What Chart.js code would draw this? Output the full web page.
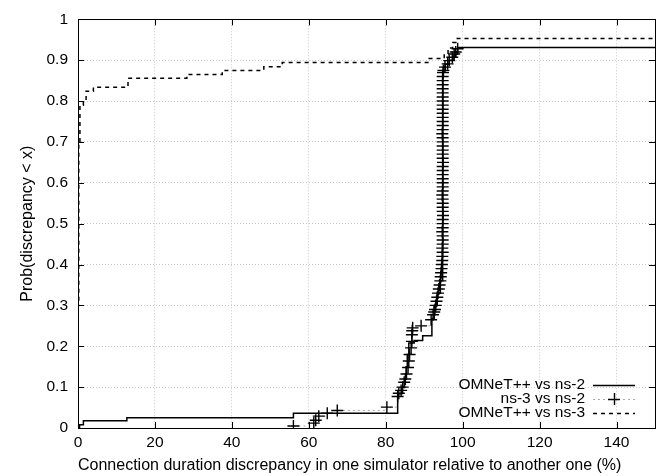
<!DOCTYPE html>
<html>
<head>
<meta charset="utf-8">
<script src="https://cdn.jsdelivr.net/npm/chart.js@4.4.0/dist/chart.umd.min.js"></script>
<style>
    html, body { margin: 0; padding: 0; background: #fff; }
</style>
</head>
<body>
<canvas id="cdfChart" width="665" height="476"></canvas>
<script>
const xTicks = [0, 20, 40, 60, 80, 100, 120, 140];
const yTicks = [0, 0.1, 0.2, 0.3, 0.4, 0.5, 0.6, 0.7, 0.8, 0.9, 1];

const seriesNames = ["OMNeT++ vs ns-2", "ns-3 vs ns-2", "OMNeT++ vs ns-3"];

// OMNeT++ vs ns-2 (solid step line)
const omnetNs2X = [0, 0.4, 1.4, 12.7, 56.0, 83.1, 84.2, 84.9, 85.3, 85.6, 86.0, 87.4, 89.6, 92.0, 92.6, 93.4, 94.2, 94.8, 94.8, 95.5, 96.5, 97.5, 98.2, 98.7, 150];
const omnetNs2Y = [0, 0.008, 0.018, 0.025, 0.036, 0.084, 0.10, 0.12, 0.15, 0.18, 0.208, 0.214, 0.226, 0.268, 0.30, 0.33, 0.36, 0.40, 0.875, 0.89, 0.90, 0.91, 0.92, 0.931, 0.931];

// ns-3 vs ns-2 (grey dotted with + markers)
const ns3Ns2X = [56.0, 61.3, 61.8, 62.6, 64.8, 67.4, 80.3, 83.1, 83.4, 84.0, 84.4, 84.8, 85.1, 85.4, 85.8, 86.0, 86.2, 86.6, 86.8, 86.8, 86.9, 87.0, 89.2, 91.8, 92.3, 92.6, 92.8, 93.0, 93.2, 93.4, 93.6, 93.8, 94.0, 94.2, 94.3, 94.4, 94.5,
    94.6, 94.7, 94.7, 94.8, 94.7, 94.8, 94.8, 94.8, 94.7, 94.8, 94.8, 94.8, 94.9, 94.8, 94.8, 94.8, 94.8, 94.7, 94.8, 94.8,
    94.8, 94.8, 94.8, 94.8, 94.8, 94.9, 94.8, 94.8, 94.8, 94.8, 94.8, 94.8, 94.7, 94.8, 94.8, 94.8, 94.8, 94.8, 94.8, 94.8,
    94.8, 94.8, 94.8, 94.8, 94.8, 94.8, 94.8, 94.9,
    95.0, 95.4, 96.1, 96.5, 97.3, 97.8, 98.2, 98.7];
const ns3Ns2Y = [0.005, 0.012, 0.019, 0.029, 0.036, 0.043, 0.051, 0.077, 0.085, 0.092, 0.10, 0.112, 0.12, 0.132, 0.148, 0.164, 0.18, 0.196, 0.212, 0.228, 0.238, 0.245, 0.25, 0.265, 0.277, 0.284, 0.29, 0.30, 0.31, 0.32, 0.33, 0.34, 0.35, 0.36, 0.37, 0.38, 0.39,
    0.40, 0.41, 0.42, 0.43, 0.44, 0.45, 0.46, 0.47, 0.48, 0.49, 0.50, 0.51, 0.52, 0.53, 0.54, 0.55, 0.56, 0.57, 0.58, 0.59,
    0.60, 0.61, 0.62, 0.63, 0.64, 0.65, 0.66, 0.67, 0.68, 0.69, 0.70, 0.71, 0.72, 0.73, 0.74, 0.75, 0.76, 0.77, 0.78, 0.79,
    0.80, 0.81, 0.82, 0.83, 0.84, 0.85, 0.86, 0.87,
    0.875, 0.883, 0.891, 0.899, 0.907, 0.915, 0.92, 0.928];

// OMNeT++ vs ns-3 (dashed step line)
const omnetNs3X = [0, 0.05, 0.2, 0.5, 1.4, 2.1, 4.0, 13.0, 28.3, 37.5, 48.3, 53.1, 91.3, 95.2, 96.2, 97.4, 98.6, 150];
const omnetNs3Y = [0, 0.30, 0.70, 0.79, 0.80, 0.824, 0.834, 0.856, 0.865, 0.875, 0.884, 0.894, 0.904, 0.915, 0.93, 0.943, 0.953, 0.953];

const toPoints = (xs, ys) => xs.map((x, i) => ({ x: x, y: ys[i] }));

const FONT = "'Liberation Sans', Arial, sans-serif";
const FONT_SIZE = 15.5;

// frame, inward tick marks and legend drawn gnuplot-style
const gnuplotExtras = {
    id: "gnuplotExtras",
    afterDraw(chart) {
        const ctx = chart.ctx;
        const a = chart.chartArea;
        const xs = chart.scales.x;
        const ys = chart.scales.y;
        ctx.save();
        ctx.strokeStyle = "#000";
        ctx.lineWidth = 1;
        ctx.setLineDash([]);
        ctx.beginPath();
        xTicks.forEach(v => {
            const px = Math.round(xs.getPixelForValue(v)) + 0.5;
            ctx.moveTo(px, a.bottom); ctx.lineTo(px, a.bottom - 6);
            ctx.moveTo(px, a.top); ctx.lineTo(px, a.top + 6);
        });
        yTicks.forEach(v => {
            const py = Math.round(ys.getPixelForValue(v)) + 0.5;
            ctx.moveTo(a.left, py); ctx.lineTo(a.left + 6, py);
            ctx.moveTo(a.right, py); ctx.lineTo(a.right - 6, py);
        });
        ctx.stroke();
        ctx.strokeRect(Math.round(a.left) + 0.5, Math.round(a.top) + 0.5, Math.round(a.right - a.left), Math.round(a.bottom - a.top));

        // legend
        ctx.font = FONT_SIZE + "px " + FONT;
        ctx.fillStyle = "#000";
        ctx.textAlign = "right";
        ctx.textBaseline = "middle";
        const textX = 585, lineX0 = 593, lineX1 = 635;
        const rows = [385, 399, 413];
        chart.data.datasets.forEach((ds, i) => {
            const y = rows[i];
            ctx.fillText(ds.label, textX, y);
            ctx.save();
            ctx.strokeStyle = ds.borderColor;
            ctx.lineWidth = ds.borderWidth;
            ctx.setLineDash(ds.borderDash || []);
            ctx.beginPath();
            ctx.moveTo(lineX0, y + 0.5); ctx.lineTo(lineX1, y + 0.5);
            ctx.stroke();
            ctx.restore();
            if (ds.pointRadius > 0) {
                ctx.save();
                ctx.strokeStyle = "#000";
                ctx.lineWidth = 1.4;
                ctx.beginPath();
                const cx = (lineX0 + lineX1) / 2;
                ctx.moveTo(cx - 6, y + 0.5); ctx.lineTo(cx + 6, y + 0.5);
                ctx.moveTo(cx + 0.5, y - 6); ctx.lineTo(cx + 0.5, y + 6);
                ctx.stroke();
                ctx.restore();
            }
        });
        ctx.restore();
    }
};

new Chart(document.getElementById("cdfChart").getContext("2d"), {
    type: "line",
    data: {
        datasets: [
            {
                label: seriesNames[0],
                data: toPoints(omnetNs2X, omnetNs2Y),
                stepped: true,
                borderColor: "#000",
                borderWidth: 1.5,
                pointRadius: 0,
                fill: false
            },
            {
                label: seriesNames[1],
                data: toPoints(ns3Ns2X, ns3Ns2Y),
                stepped: true,
                borderColor: "#aaa",
                borderWidth: 1,
                borderDash: [2, 3],
                pointStyle: "cross",
                pointRadius: 6,
                pointBorderColor: "#000",
                pointBorderWidth: 1.4,
                fill: false
            },
            {
                label: seriesNames[2],
                data: toPoints(omnetNs3X, omnetNs3Y),
                stepped: true,
                borderColor: "#000",
                borderWidth: 1.5,
                borderDash: [4, 4],
                pointRadius: 0,
                fill: false
            }
        ]
    },
    options: {
        responsive: false,
        animation: false,
        devicePixelRatio: 1,
        layout: { padding: { top: 13, right: 10, left: 0, bottom: 0 } },
        plugins: {
            legend: { display: false },
            tooltip: { enabled: false }
        },
        scales: {
            x: {
                type: "linear",
                min: 0,
                max: 150,
                afterBuildTicks: s => { s.ticks = xTicks.map(v => ({ value: v })); },
                afterFit: s => { s.height = 48; },
                grid: { color: "#c8c8c8", lineWidth: 1, drawTicks: false },
                border: { display: false, dash: [1, 2] },
                ticks: { color: "#000", font: { family: FONT, size: FONT_SIZE }, padding: 5, maxRotation: 0 },
                title: {
                    display: true,
                    align: "start",
                    text: "Connection duration discrepancy in one simulator relative to another one (%)",
                    color: "#000",
                    font: { family: FONT, size: 16 },
                    padding: { top: 0, bottom: 1 }
                }
            },
            y: {
                type: "linear",
                min: 0,
                max: 1,
                afterBuildTicks: s => { s.ticks = yTicks.map(v => ({ value: v })); },
                afterFit: s => { s.width = 78; },
                grid: { color: "#c8c8c8", lineWidth: 1, drawTicks: false },
                border: { display: false, dash: [1, 2] },
                ticks: {
                    color: "#000",
                    font: { family: FONT, size: FONT_SIZE },
                    padding: 10,
                    callback: v => String(Math.round(v * 10) / 10)
                },
                title: {
                    display: true,
                    text: "Prob(discrepancy < x)",
                    color: "#000",
                    font: { family: FONT, size: 16 },
                    padding: { top: 18, bottom: 0 }
                }
            }
        }
    },
    plugins: [gnuplotExtras]
});
</script>
</body>
</html>
